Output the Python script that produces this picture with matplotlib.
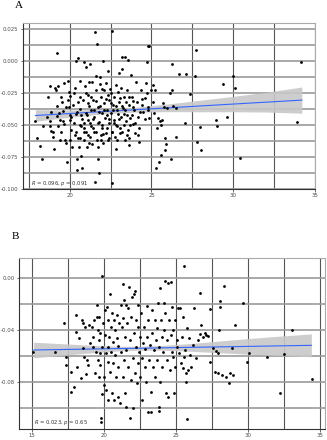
import matplotlib
matplotlib.use("Agg")
import matplotlib.pyplot as plt
from matplotlib.ticker import FixedLocator, FormatStrFormatter

plt.rcParams['axes.unicode_minus'] = False
plt.rcParams['font.family'] = ['DejaVu Sans']

# ---------------- Panel A data ----------------
a_x = [17.87, 17.97, 18.17, 18.3, 18.38, 18.62, 18.68, 18.78, 18.82, 18.88, 18.78, 18.88, 18.99, 19.03,
       19.09, 19.15, 18.99, 19.19, 19.29, 19.23, 19.35, 19.39, 19.31, 19.45, 19.49, 19.55, 19.59, 19.63,
       19.67, 19.73, 19.8, 19.84, 19.9, 19.94, 19.9, 19.96, 20.0, 20.0, 20.04, 20.1, 20.16, 20.2, 20.24,
       20.3, 20.37, 20.37, 20.41, 20.45, 20.47, 20.51, 20.53, 20.57, 20.61, 20.61, 20.65, 20.69, 20.71,
       20.73, 20.77, 20.81, 20.85, 20.85, 20.89, 20.93, 20.97, 20.97, 21.01, 21.05, 21.09, 21.12, 21.14,
       21.18, 21.22, 21.26, 21.28, 21.32, 21.34, 21.38, 21.42, 21.46, 21.5, 21.52, 21.54, 21.58, 21.62,
       21.64, 21.66, 21.7, 21.72, 21.74, 21.76, 21.78, 21.83, 21.87, 21.91, 21.93, 21.95, 21.99, 22.01,
       22.03, 22.07, 22.11, 22.15, 22.19, 22.23, 22.27, 22.31, 22.35, 22.35, 22.39, 22.43, 22.47, 22.51,
       22.56, 22.6, 22.6, 22.64, 22.68, 22.72, 22.76, 22.8, 22.84, 22.88, 22.92, 22.96, 23.0, 23.04,
       23.08, 23.12, 23.16, 23.2, 23.22, 23.25, 23.29, 23.33, 23.37, 23.41, 23.45, 23.49, 23.53, 23.55,
       23.57, 23.61, 23.65, 23.69, 23.75, 23.81, 23.85, 23.89, 23.94, 23.98, 24.06, 24.16, 24.22, 24.26,
       24.34, 24.42, 24.5, 24.58, 24.67, 24.71, 24.75, 24.77, 24.83, 24.79, 24.87, 24.97, 25.07, 25.11,
       25.17, 25.23, 25.27, 25.31, 25.38, 25.44, 25.52, 25.58, 25.6, 25.64, 25.72, 25.76, 25.8, 25.84,
       25.88, 25.98, 26.12, 26.18, 26.25, 26.25, 26.33, 26.49, 26.53, 26.71, 27.06, 27.14, 27.34, 27.67,
       27.71, 27.79, 27.98, 28.05, 28.97, 29.04, 29.37, 29.64, 30.0, 30.1, 30.39, 33.9, 34.16,
       21.0, 21.2, 21.4, 21.6, 21.8, 22.0, 22.2, 22.4, 22.6, 22.8, 23.0, 23.2, 23.4, 23.6, 23.8, 24.0,
       20.5, 20.7, 20.9, 20.3, 20.1, 21.1, 21.3, 21.5, 21.7, 21.9, 22.1, 22.3, 22.5, 22.7, 22.9, 23.1,
       23.3, 23.5, 23.7, 24.1, 24.3, 19.8, 19.6, 20.0, 20.6, 21.2, 21.6, 22.0, 22.4, 22.8, 23.2, 23.6,
       24.4, 24.6, 21.45, 21.85, 22.25, 22.65, 23.05, 20.45, 20.85, 21.25, 22.95, 23.45, 19.4, 19.2,
       20.25, 24.2, 24.8, 21.05, 22.05, 22.55, 23.85, 20.65]
a_y = [-0.0465, -0.060, -0.0662, -0.0763, -0.051, -0.0433, -0.0283, -0.0465, -0.0194, -0.0396, -0.0506,
       -0.0543, -0.0595, -0.0688, -0.0212, -0.023, -0.055, 0.0065, -0.0194, -0.035, -0.0408, -0.046,
       -0.051, -0.055, -0.0278, -0.0317, -0.0388, -0.049, -0.017, -0.0615, -0.064, -0.0787, -0.0153,
       -0.024, -0.0304, -0.0356, -0.042, -0.0615, -0.046, -0.0537, -0.067, -0.034, -0.048, -0.021,
       -0.0415, 0.0003, -0.055, -0.0761, -0.085, 0.0021, -0.0599, -0.067, -0.0155, -0.0278, -0.0377,
       -0.074, -0.051, -0.0837, -0.045, -0.0304, -0.0008, -0.0615, -0.0486, -0.0194, -0.0044, -0.0402,
       -0.055, -0.067, -0.0267, -0.033, -0.046, -0.016, -0.059, -0.002, -0.038, -0.051, -0.016, -0.0647,
       -0.0304, -0.0434, -0.055, 0.0224, -0.094, -0.0228, -0.0117, 0.0136, -0.0615, -0.067, -0.0356,
       -0.0761, -0.087, -0.0473, -0.0127, -0.0179, -0.0576, -0.0278, -0.0408, -0.0524, -0.0002, -0.0642,
       -0.0228, -0.033, -0.0447, -0.017, -0.0563, -0.038, -0.0267, -0.0075, -0.0615, -0.0486, -0.0304,
       -0.0215, -0.0408, -0.055, 0.0234, -0.0948, -0.0343, -0.0278, -0.046, -0.059, -0.0186, -0.0688,
       -0.038, -0.051, -0.024, -0.0317, -0.009, -0.0563, -0.0434, -0.0207, 0.003, -0.0065, -0.0369,
       -0.0278, -0.0498, -0.0615, 0.003, -0.0317, -0.042, -0.0228, 0.0005, -0.0537, -0.0655, -0.0343,
       -0.0447, -0.011, -0.0278, -0.049, -0.0312, -0.038, -0.0563, -0.016, -0.0434, -0.0524, -0.0628,
       -0.0228, -0.0343, -0.0395, -0.0291, -0.0173, -0.0008, -0.025, 0.0115, 0.012, -0.0356, -0.0447,
       -0.0228, -0.0317, -0.0186, -0.0408, -0.0228, -0.0837, -0.0524, -0.0447, -0.0784, -0.0465, -0.0498,
       -0.0735, -0.046, -0.033, -0.0356, -0.0597, -0.0697, -0.0647, -0.0369, -0.0247, -0.0768, -0.0026,
       -0.0228, -0.035, -0.0369, -0.0595, -0.0104, -0.048, -0.0104, -0.026, -0.0117, 0.0086, -0.0628,
       -0.0514, -0.0691, -0.046, -0.0504, -0.018, -0.0433, -0.012, -0.021, -0.0756, -0.0475, -0.0008,
       -0.025, -0.035, -0.045, -0.055, -0.040, -0.050, -0.030, -0.045, -0.055, -0.035, -0.045, -0.055,
       -0.038, -0.028, -0.042, -0.048, -0.032, -0.042, -0.052, -0.058, -0.044, -0.058, -0.028, -0.038,
       -0.048, -0.062, -0.038, -0.052, -0.025, -0.048, -0.062, -0.029, -0.041, -0.058, -0.050, -0.032,
       -0.040, -0.036, -0.047, -0.027, -0.060, -0.064, -0.031, -0.022, -0.060, -0.050, -0.035, -0.060,
       -0.030, -0.045, -0.052, -0.035, -0.042, -0.038, -0.052, -0.040, -0.055, -0.048, -0.041, -0.047,
       -0.062, -0.043, -0.025, -0.058, -0.038, -0.042, -0.057, -0.033, -0.036, -0.050]
a_fit_x = [17.9, 20, 22, 23, 24, 26, 28, 30, 32, 34.2]
a_fit_y = [-0.0425, -0.04095, -0.03948, -0.03875, -0.03801, -0.03654, -0.03507, -0.03359, -0.03212, -0.0305]
a_ci_hi = [-0.0380, -0.0382, -0.0377, -0.0371, -0.0361, -0.0335, -0.0306, -0.0276, -0.0244, -0.0203]
a_ci_lo = [-0.0470, -0.0438, -0.0413, -0.0405, -0.0399, -0.0395, -0.0396, -0.0396, -0.0398, -0.0407]
a_xticks = [20, 25, 30, 35]
a_yticks = [0.025, 0.000, -0.025, -0.050, -0.075, -0.100]
a_label = "$R$ = 0.096, $p$ = 0.091"

# ---------------- Panel B data ----------------
b_x = [15.07, 16.57, 17.22, 17.38, 17.38, 17.69, 17.69, 17.9, 18.04, 18.04, 18.13, 18.27, 18.36, 18.43,
       18.5, 18.55, 18.59, 18.64, 18.73, 18.82, 18.89, 18.96, 19.0, 19.12, 19.19, 19.24, 19.31, 19.35,
       19.42, 19.47, 19.51, 19.54, 19.58, 19.61, 19.63, 19.65, 19.7, 19.7, 19.74, 19.77, 19.81, 19.84,
       19.86, 19.88, 19.93, 19.98, 20.02, 20.07, 20.09, 20.12, 20.16, 20.21, 20.24, 20.26, 20.28, 20.3,
       20.35, 20.39, 20.39, 20.44, 20.49, 20.51, 20.53, 20.58, 20.63, 20.67, 20.7, 20.72, 20.77, 20.81,
       20.86, 20.9, 20.95, 20.97, 20.99, 21.04, 21.09, 21.14, 21.18, 21.23, 21.28, 21.3, 21.33, 21.37,
       21.39, 21.44, 21.46, 21.51, 21.53, 21.55, 21.6, 21.65, 21.69, 21.74, 21.76, 21.79, 21.83, 21.88,
       21.92, 21.97, 22.01, 22.06, 22.1, 22.13, 22.15, 22.2, 22.24, 22.29, 22.34, 22.36, 22.38, 22.43,
       22.48, 22.52, 22.59, 22.64, 22.66, 22.71, 22.75, 22.82, 22.86, 22.9, 22.95, 23.0, 23.03, 23.07,
       23.12, 23.19, 23.24, 23.26, 23.31, 23.35, 23.42, 23.47, 23.51, 23.56, 23.61, 23.65, 23.7, 23.75,
       23.79, 23.82, 23.84, 23.88, 23.91, 23.96, 24.0, 24.05, 24.1, 24.14, 24.19, 24.24, 24.26, 24.3,
       24.35, 24.4, 24.42, 24.47, 24.51, 24.56, 24.61, 24.63, 24.68, 24.72, 24.77, 24.81, 24.86, 24.91,
       24.95, 25.05, 25.09, 25.16, 25.23, 25.27, 25.32, 25.39, 25.46, 25.49, 25.53, 25.58, 25.6, 25.67,
       25.72, 25.74, 25.79, 25.83, 25.9, 25.95, 26.0, 26.14, 26.25, 26.37, 26.53, 26.64, 26.69, 26.76,
       26.88, 26.99, 27.11, 27.22, 27.34, 27.38, 27.57, 27.69, 27.8, 27.92, 27.92, 27.99, 28.04, 28.04,
       28.2, 28.3, 28.44, 28.68, 28.73, 28.87, 28.96, 29.08, 29.66, 29.9, 30.04, 31.3, 32.22, 32.5,
       33.03, 34.42]
b_y = [-0.0569, -0.0569, -0.0341, -0.0608, -0.0664, -0.0723, -0.0879, -0.0833, -0.0282, -0.041, -0.068,
       -0.0462, -0.0769, -0.0321, -0.0346, -0.0538, -0.0603, -0.0372, -0.0736, -0.0628, -0.0667, -0.0359,
       -0.05, -0.0372, -0.0449, -0.0526, -0.0321, -0.0731, -0.0564, -0.03, -0.0205, -0.0397, -0.0628,
       -0.0756, -0.0295, -0.0474, -0.0423, -0.0577, -0.0667, -0.1077, -0.1103, -0.089, 0.0018, -0.0526,
       -0.0346, -0.0756, -0.0821, -0.0244, -0.0436, -0.0577, -0.0859, -0.0218, -0.0526, -0.0936, -0.0321,
       -0.0641, -0.0449, -0.012, -0.0718, -0.0372, -0.0564, -0.0885, -0.0269, -0.0487, -0.0654, -0.0321,
       -0.0936, -0.0397, -0.059, -0.0756, -0.0462, -0.0282, -0.091, -0.0521, -0.0679, -0.0346, -0.0962,
       -0.0205, -0.0564, -0.0372, -0.0046, -0.0756, -0.0308, -0.0628, -0.0167, -0.0449, -0.0885, -0.0205,
       -0.0987, -0.0551, -0.0346, -0.0679, -0.0231, -0.0064, -0.1077, -0.0474, -0.0782, -0.0295, -0.0146,
       -0.0615, -0.1, -0.0423, -0.012, -0.0731, -0.0095, -0.0526, -0.0321, -0.0808, -0.0372, -0.0205,
       -0.0654, -0.0564, -0.0449, -0.0756, -0.0269, -0.0936, -0.0615, -0.05, -0.0372, -0.0679, -0.0546,
       -0.0795, -0.0213, -0.0449, -0.1026, -0.0321, -0.0628, -0.0513, -0.0872, -0.1033, -0.0244, -0.0423,
       -0.0679, -0.0551, -0.0321, -0.0756, -0.0474, -0.0385, -0.0628, -0.0192, -0.1018, -0.0987, -0.0526,
       -0.0077, -0.0795, -0.0321, -0.0449, -0.0679, -0.0564, -0.0397, -0.0192, -0.0021, -0.0269, -0.0885,
       -0.0628, -0.0474, -0.0033, -0.091, -0.0321, -0.0705, -0.0026, -0.0436, -0.0218, -0.0564, -0.0603,
       -0.0397, -0.0885, -0.0679, -0.0321, -0.0526, -0.0474, -0.0231, -0.0577, -0.0231, -0.0649, -0.0449,
       -0.0295, -0.0692, 0.0095, -0.0603, -0.0551, -0.0726, -0.0795, -0.1085, -0.0385, -0.0705, -0.0462,
       -0.059, -0.0679, -0.0513, -0.0231, -0.0615, -0.0474, -0.0428, -0.011, -0.0359, -0.0449, -0.0423,
       -0.0436, -0.0444, -0.0238, -0.0641, -0.0538, -0.0718, -0.0556, -0.0577, -0.0731, -0.0397, -0.0174,
       -0.0223, -0.0744, -0.0059, -0.0756, -0.0803, -0.0731, -0.0538, -0.0744, -0.0359, -0.0192, -0.0641,
       -0.0577, -0.0608, -0.0885, -0.0582, -0.0397, -0.0777]
b_fit_x = [15.1, 17, 19, 21, 22.5, 24, 26, 28, 30, 32, 34.4]
b_fit_y = [-0.0552, -0.05484, -0.05447, -0.05410, -0.05382, -0.05354, -0.05316, -0.05279, -0.05242, -0.05204, -0.0516]
b_ci_hi = [-0.0492, -0.0503, -0.0515, -0.0523, -0.0523, -0.0517, -0.0502, -0.0483, -0.0464, -0.0447, -0.0428]
b_ci_lo = [-0.0612, -0.0593, -0.0575, -0.0559, -0.0553, -0.0553, -0.0562, -0.0573, -0.0584, -0.0593, -0.0604]
b_xticks = [15, 20, 25, 30, 35]
b_yticks = [0.00, -0.04, -0.08]
b_label = "$R$ = 0.023, $p$ = 0.65"

fig = plt.figure(figsize=(3.27, 4.40), dpi=100)
fig.patch.set_facecolor('white')


def style(ax, xlim, ylim, xt, yt, xminor, yminor, yfmt):
    ax.set_xlim(*xlim)
    ax.set_ylim(*ylim)
    ax.xaxis.set_major_locator(FixedLocator(xt))
    ax.yaxis.set_major_locator(FixedLocator(yt))
    ax.yaxis.set_major_formatter(FormatStrFormatter(yfmt))
    ax.xaxis.set_major_formatter(FormatStrFormatter('%d'))
    for v in list(xt) + list(xminor):
        ax.axvline(v, color='#555555', lw=0.8, zorder=0)
    for v in list(yt) + list(yminor):
        ax.axhline(v, color='#9a9a9a', lw=1.2, zorder=0)
    for s in ['top', 'right']:
        ax.spines[s].set_color('#aaaaaa')
        ax.spines[s].set_linewidth(0.8)
    for s in ['left', 'bottom']:
        ax.spines[s].set_color('#333333')
        ax.spines[s].set_linewidth(0.8)
    ax.tick_params(labelsize=3.9, labelcolor='#4d4d4d', length=1.8, width=0.5,
                   color='#333333', pad=1.2)


axA = fig.add_axes([0.0694, 0.570, 0.8936, 0.377])
axA.fill_between(a_fit_x, a_ci_lo, a_ci_hi, color='#c8c8c8', alpha=0.9, lw=0, zorder=1)
axA.scatter(a_x, a_y, s=4, color='black', lw=0, zorder=3)
axA.plot(a_fit_x, a_fit_y, color='#3366FF', lw=0.8, zorder=2)
style(axA, (17.12, 35.0), (-0.1, 0.0294), a_xticks, a_yticks,
      [17.5, 22.5, 27.5, 32.5], [0.0125, -0.0125, -0.0375, -0.0625, -0.0875], '%.3f')
axA.text(17.6, -0.0955, a_label, fontsize=3.8, color='#333333', va='center')

axB = fig.add_axes([0.059, 0.025, 0.935, 0.3886])
axB.fill_between(b_fit_x, b_ci_lo, b_ci_hi, color='#c8c8c8', alpha=0.9, lw=0, zorder=1)
axB.scatter(b_x, b_y, s=4, color='black', lw=0, zorder=3)
axB.plot(b_fit_x, b_fit_y, color='#3366FF', lw=0.8, zorder=2)
style(axB, (14.1, 35.35), (-0.116, 0.0156), b_xticks, b_yticks,
      [17.5, 22.5, 27.5, 32.5], [-0.02, -0.06, -0.10], '%.2f')
axB.text(15.1, -0.111, b_label, fontsize=3.8, color='#333333', va='center')

fig.text(15 / 327, 1 - 6 / 440, 'A', fontsize=8, family='Liberation Serif', va='center', ha='left')
fig.text(12 / 327, 1 - 236 / 440, 'B', fontsize=8, family='Liberation Serif', va='center', ha='left')

fig.savefig('out.png', dpi=100, facecolor='white')
